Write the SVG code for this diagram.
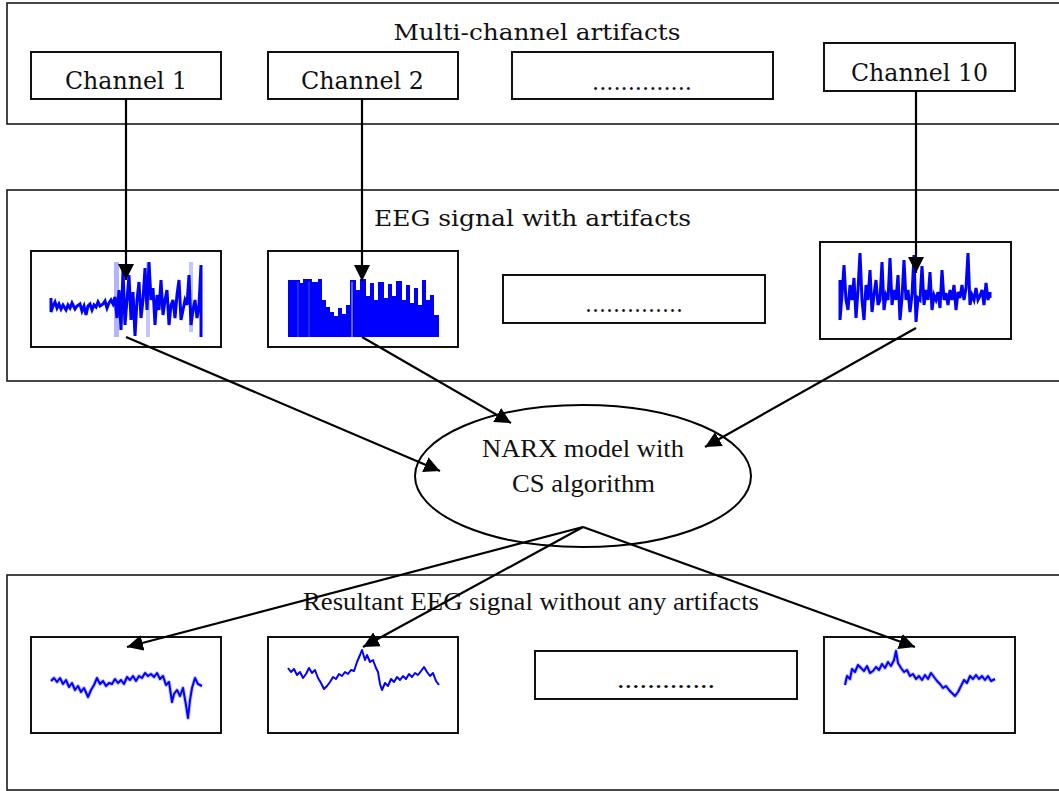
<svg xmlns="http://www.w3.org/2000/svg" width="1059" height="791" viewBox="0 0 1059 791">
  <style>
    .panel { fill: #ffffff; stroke: #1a1a1a; stroke-width: 1.6; }
    .box { fill: #ffffff; stroke: #111111; stroke-width: 2; }
    .csb { font-family: "DejaVu Serif", "Liberation Serif", serif; fill: #111111; }
    .tms { font-family: "Liberation Serif", "Times New Roman", serif; fill: #111111; }
    .link { stroke: #000000; stroke-width: 2.2; fill: none; }
    .raw { fill: none; stroke: #0000ff; stroke-width: 3; stroke-linejoin: miter; }
    .halo { fill: none; stroke: #9a9aff; stroke-width: 4; stroke-linejoin: round; opacity: 0.6; }
    .clean { fill: none; stroke: #0000ff; stroke-width: 2; stroke-linejoin: round; }
  </style>
  <defs>
    <marker id="arrow" viewBox="0 0 16 16" refX="16" refY="8" markerWidth="16" markerHeight="16" markerUnits="userSpaceOnUse" orient="auto">
      <path d="M0,0 L16,8 L0,16 Z" fill="#000000"/>
    </marker>
  </defs>

  <rect width="1059" height="791" fill="#ffffff"/>

  <!-- top panel: input channels -->
  <g id="panel-channels">
    <rect class="panel" x="7" y="3" width="1070" height="121"/>
    <text class="csb" x="537" y="40" font-size="23" text-anchor="middle" textLength="287" lengthAdjust="spacingAndGlyphs">Multi-channel artifacts</text>
  </g>
  <g id="ch1">
    <rect class="box" x="31" y="52" width="190" height="47"/>
    <text class="csb" x="126" y="89" font-size="24" text-anchor="middle" textLength="122" lengthAdjust="spacingAndGlyphs">Channel 1</text>
  </g>
  <g id="ch2">
    <rect class="box" x="268" y="52" width="190" height="47"/>
    <text class="csb" x="362.5" y="89" font-size="24" text-anchor="middle" textLength="123" lengthAdjust="spacingAndGlyphs">Channel 2</text>
  </g>
  <g id="ch-more">
    <rect class="box" x="512" y="52" width="261" height="47"/>
    <text class="csb" x="642" y="90" font-size="22" text-anchor="middle" textLength="100" lengthAdjust="spacingAndGlyphs">..............</text>
  </g>
  <g id="ch10">
    <rect class="box" x="824" y="43" width="191" height="48"/>
    <text class="csb" x="919.5" y="81" font-size="24" text-anchor="middle" textLength="137" lengthAdjust="spacingAndGlyphs">Channel 10</text>
  </g>

  <!-- middle panel: contaminated EEG -->
  <g id="panel-raw">
    <rect class="panel" x="7" y="190" width="1070" height="191"/>
    <text class="csb" x="532.5" y="226" font-size="23" text-anchor="middle" textLength="317" lengthAdjust="spacingAndGlyphs">EEG signal with artifacts</text>
  </g>
  <g id="raw1">
    <rect class="box" x="31" y="251" width="190" height="96"/>
    <rect x="114" y="262" width="5" height="75" fill="#b4b4ff"/>
    <rect x="146" y="262" width="4" height="75" fill="#c4c4ff"/>
    <rect x="189" y="262" width="4" height="70" fill="#c4c4ff"/>
    <path class="raw" d="M51,298 V312 L53,306 L55,302 L57,308 L59,304 L61,309 L63,305 L66,310 L68,305 L70,308 L72,303 L75,309 L77,306 L80,304 L82,311 L84,306 L86,315 L88,306 L90,304 L92,310 L94,305 L96,307 L98,302 L100,306 L103,304 L105,301 L107,308 L109,303 L111,300 L113,304 L115,297 L117,318 L119,290 L121,330 L123,270 L125,325 L127,300 L129,275 L131,320 L133,292 L135,336 L137,300 L139,282 L141,318 L143,300 L145,268 L147,310 L149,262 L151,300 L153,288 L155,325 L157,295 L159,310 L161,280 L163,315 L165,300 L167,290 L169,325 L171,305 L173,300 L175,318 L177,295 L179,280 L181,320 L183,310 L185,300 L187,305 L189,275 L191,325 L193,310 L195,300 L197,318 L199,305 L201,265 V337"/>
  </g>
  <g id="raw2">
    <rect class="box" x="268" y="251" width="190" height="96"/>
    <polygon fill="#0000ff" points="288,337 288,280 300,280 300,283 303,283 303,279 312,279 312,282 318,282 318,279 322,279 322,300 326,300 326,307 330,307 330,312 334,312 334,316 338,316 338,308 342,308 342,314 346,314 346,305 350,305 350,280 356,280 356,290 360,290 360,279 366,279 366,296 370,296 370,283 374,283 374,300 378,300 378,282 384,282 384,298 388,298 388,284 392,284 392,296 396,296 396,281 402,281 402,300 406,300 406,285 410,285 410,303 414,303 414,288 418,288 418,305 422,305 422,280 426,280 426,300 430,300 430,295 434,295 434,315 439,315 439,337"/>
    <line x1="298" y1="282" x2="298" y2="337" stroke="#4d4dff" stroke-width="1"/>
    <line x1="309" y1="282" x2="309" y2="337" stroke="#4d4dff" stroke-width="1"/>
    <line x1="352" y1="282" x2="352" y2="337" stroke="#8080ff" stroke-width="1.5"/>
  </g>
  <g id="raw-more">
    <rect class="box" x="503" y="275" width="262" height="48"/>
    <text class="csb" x="634" y="312" font-size="22" text-anchor="middle" textLength="98" lengthAdjust="spacingAndGlyphs">..............</text>
  </g>
  <g id="raw10">
    <rect class="box" x="820" y="242" width="191" height="97"/>
    <path class="raw" stroke-width="2.6" d="M840,280 V320 L842,295 L844,265 L846,300 L848,310 L850,285 L852,300 L854,278 L856,318 L858,290 L860,253 L862,300 L864,320 L866,285 L868,300 L870,270 L872,312 L874,295 L876,280 L878,305 L880,300 L882,262 L884,310 L886,295 L888,300 L890,258 L892,305 L894,290 L896,300 L898,275 L900,320 L902,298 L904,260 L906,300 L908,290 L910,312 L912,295 L914,255 L916,322 L918,298 L920,300 L922,266 L924,305 L926,290 L928,300 L930,272 L932,310 L934,295 L936,300 L938,292 L940,308 L942,270 L944,300 L946,293 L948,305 L950,290 L952,300 L954,285 L956,310 L958,292 L960,298 L962,285 L964,300 L966,288 L968,253 L970,305 L972,295 L974,300 L976,288 L978,300 L980,296 L982,290 L984,305 L986,283 L988,300 L990,292 V298"/>
  </g>

  <!-- central model -->
  <g id="narx">
    <ellipse cx="583" cy="476" rx="168" ry="71" fill="#ffffff" stroke="#000000" stroke-width="2"/>
    <text class="tms" x="583" y="457" font-size="26" text-anchor="middle" textLength="202" lengthAdjust="spacingAndGlyphs">NARX model with</text>
    <text class="tms" x="583.5" y="492" font-size="26" text-anchor="middle" textLength="143" lengthAdjust="spacingAndGlyphs">CS algorithm</text>
  </g>

  <!-- bottom panel: cleaned EEG -->
  <g id="panel-clean">
    <rect class="panel" x="7" y="575" width="1070" height="215"/>
    <text class="tms" x="531" y="610" font-size="26" text-anchor="middle" textLength="456" lengthAdjust="spacingAndGlyphs">Resultant EEG signal without any artifacts</text>
  </g>
  <g id="clean1">
    <rect class="box" x="31" y="637" width="190" height="96"/>
    <polyline class="halo" points="51,681 54,678 57,682 60,678 63,684 66,680 69,687 72,683 75,690 78,686 81,692 84,688 88,697 91,690 94,685 97,678 100,684 103,681 106,686 109,683 112,684 115,679 118,683 121,680 124,684 127,677 130,680 133,676 136,681 139,676 142,678 145,673 148,676 151,674 154,677 157,673 160,679 163,676 166,685 169,682 172,702 174,694 177,690 180,696 183,688 186,705 188,718 190,700 192,688 195,678 198,684 202,686"/>
    <polyline class="clean" points="51,681 54,678 57,682 60,678 63,684 66,680 69,687 72,683 75,690 78,686 81,692 84,688 88,697 91,690 94,685 97,678 100,684 103,681 106,686 109,683 112,684 115,679 118,683 121,680 124,684 127,677 130,680 133,676 136,681 139,676 142,678 145,673 148,676 151,674 154,677 157,673 160,679 163,676 166,685 169,682 172,702 174,694 177,690 180,696 183,688 186,705 188,718 190,700 192,688 195,678 198,684 202,686"/>
  </g>
  <g id="clean2">
    <rect class="box" x="268" y="637" width="190" height="96"/>
    <polyline class="clean" points="288,668 291,672 294,669 297,675 300,672 303,678 306,674 309,668 312,673 315,670 318,678 321,683 324,689 327,686 330,682 333,677 336,679 339,674 342,676 345,672 348,674 351,670 354,671 357,662 360,655 362,650 365,660 367,655 370,662 373,660 376,668 378,672 380,684 382,690 385,683 388,686 391,679 394,682 397,677 400,680 403,676 406,679 409,674 412,677 415,673 418,675 421,671 424,667 427,672 430,676 433,673 436,681 439,685"/>
  </g>
  <g id="clean-more">
    <rect class="box" x="535" y="651" width="262" height="48"/>
    <text class="tms" x="666" y="688" font-size="25" text-anchor="middle" textLength="98" lengthAdjust="spacingAndGlyphs">.............</text>
  </g>
  <g id="clean10">
    <rect class="box" x="824" y="637" width="191" height="96"/>
    <polyline class="halo" points="845,685 847,676 850,679 852,669 855,672 858,665 861,668 864,671 867,666 870,673 873,671 876,667 879,670 882,664 885,668 888,662 891,666 894,660 896,651 898,663 901,668 904,672 907,670 910,676 913,674 916,679 919,676 922,680 925,675 928,679 931,673 934,677 937,681 940,684 943,688 946,686 949,690 952,693 955,696 958,692 961,686 964,680 967,683 970,676 973,679 976,675 979,679 982,676 985,680 988,676 991,681 995,679"/>
    <polyline class="clean" points="845,685 847,676 850,679 852,669 855,672 858,665 861,668 864,671 867,666 870,673 873,671 876,667 879,670 882,664 885,668 888,662 891,666 894,660 896,651 898,663 901,668 904,672 907,670 910,676 913,674 916,679 919,676 922,680 925,675 928,679 931,673 934,677 937,681 940,684 943,688 946,686 949,690 952,693 955,696 958,692 961,686 964,680 967,683 970,676 973,679 976,675 979,679 982,676 985,680 988,676 991,681 995,679"/>
  </g>

  <!-- connectors -->
  <g id="connectors">
    <line class="link" x1="126" y1="99" x2="126" y2="280" marker-end="url(#arrow)"/>
    <line class="link" x1="362" y1="99" x2="362" y2="281" marker-end="url(#arrow)"/>
    <line class="link" x1="916" y1="91" x2="916" y2="273" marker-end="url(#arrow)"/>
    <line class="link" x1="126" y1="337" x2="440" y2="471" marker-end="url(#arrow)"/>
    <line class="link" x1="362" y1="337" x2="511" y2="423" marker-end="url(#arrow)"/>
    <line class="link" x1="916" y1="328" x2="705" y2="447" marker-end="url(#arrow)"/>
    <line class="link" x1="583" y1="527" x2="127" y2="647" marker-end="url(#arrow)"/>
    <line class="link" x1="583" y1="527" x2="363" y2="647" marker-end="url(#arrow)"/>
    <line class="link" x1="583" y1="527" x2="915" y2="647" marker-end="url(#arrow)"/>
  </g>
</svg>
